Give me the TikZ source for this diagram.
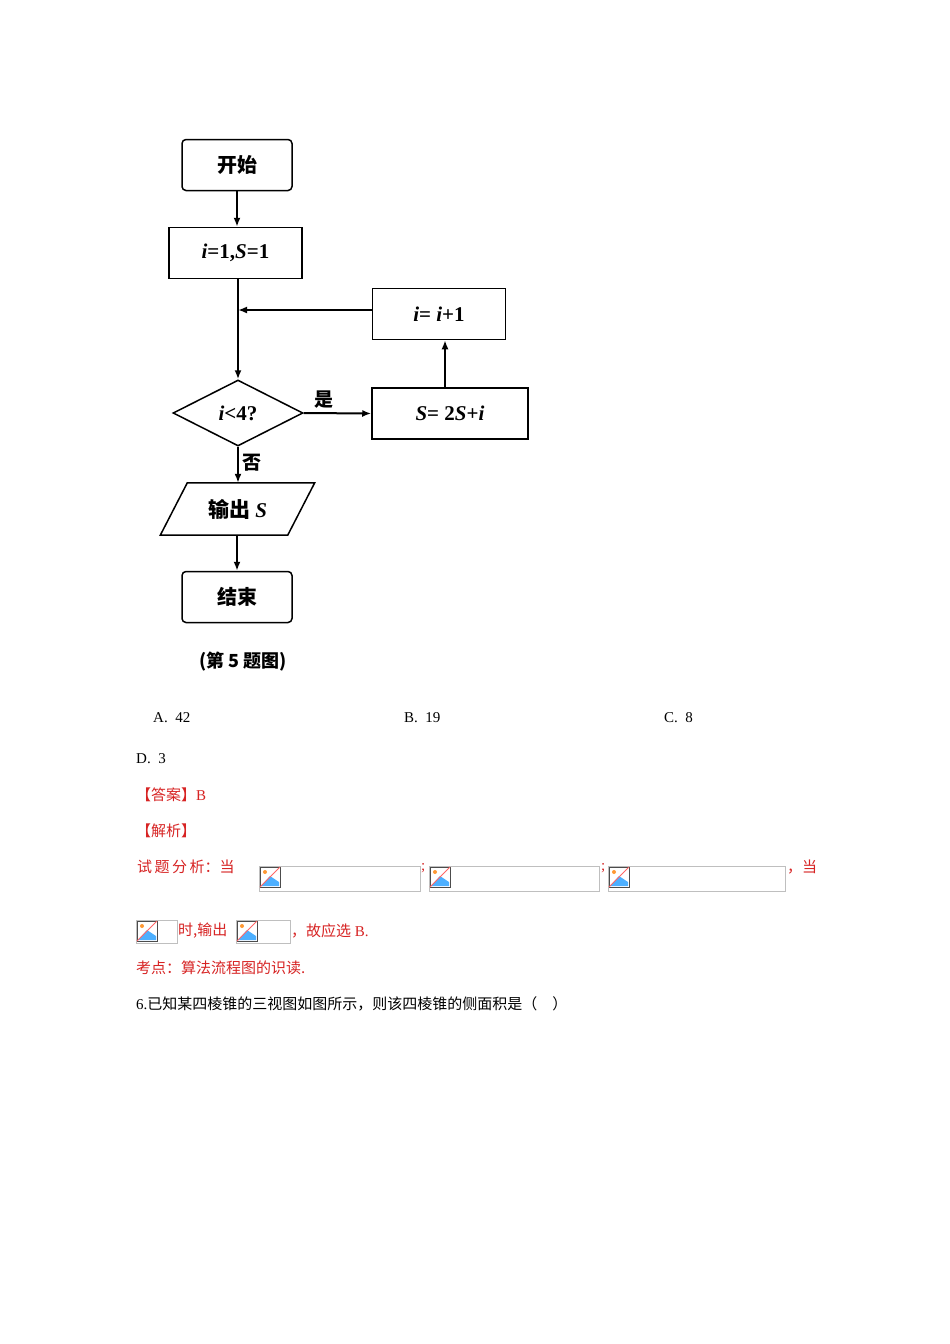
\documentclass[tikz,border=0pt]{standalone}
\usepackage{fontspec}
\setmainfont{Liberation Serif}
\newfontfamily\cjk{Noto Sans CJK SC}
\usetikzlibrary{shapes.geometric,arrows.meta,calc}
\definecolor{ansred}{RGB}{215,35,35}
\tikzset{
 box/.style={draw,line width=1.5pt,minimum width=133pt,minimum height=51pt,inner sep=0pt,font=\bfseries\fontsize{21}{21}\selectfont},
 rbox/.style={box,rounded corners=4pt,minimum width=110pt,font=\cjk\bfseries\fontsize{20}{20}\selectfont},
 arr/.style={line width=2pt,-{Latex[length=9pt,width=7pt]}},
 txt/.style={anchor=west,inner sep=0pt,font=\fontsize{15}{15}\selectfont},
 red/.style={txt,text=ansred},
 img/.style={draw=black!25,line width=0.6pt,minimum height=25pt,inner sep=0pt},
}
\newcommand{\imgicon}[1]{%
 \fill[white] (#1) rectangle ++(20,20);
 \fill[blue!45!cyan!70] ($(#1)+(1,19)$) -- ($(#1)+(10,9)$) -- ($(#1)+(19,15)$) -- ($(#1)+(19,19)$) -- cycle;
 \draw[black!70,line width=0.8pt] (#1) rectangle ++(20,20);
 \fill[orange!80] ($(#1)+(5,5)$) circle (2);
 \draw[red!60,line width=1pt] ($(#1)+(0,20)$) -- ($(#1)+(20,0)$);
}
\newcommand{\iv}[1]{\textit{#1}}
\begin{document}
\begin{tikzpicture}[x=1pt,y=-1pt]
\useasboundingbox (0,0) rectangle (950,1344);
\fill[white] (0,0) rectangle (950,1344);
\node[rbox] (start) at (237,165) {开始};
\node[box] (init) at (235.5,253) {\iv{i}=1,\iv{S}=1};
\node[box] (inc) at (439,314) {\iv{i}= \iv{i}+1};
\node[draw,diamond,line width=1.5pt,aspect=2,minimum width=130pt,minimum height=66pt,inner sep=0pt,font=\bfseries\fontsize{21}{21}\selectfont] (cond) at (238,413) {\iv{i}<4?};
\node[box,minimum width=156pt] (upd) at (450,413.5) {\iv{S}= 2\iv{S}+\iv{i}};
\node[inner sep=0pt,minimum width=120pt,minimum height=52pt,font=\fontsize{21}{21}\selectfont] (out) at (237.5,509) {{\cjk\bfseries 输出} \textbf{\iv{S}}};
\draw[line width=1.5pt] ($(out.south west)+(-17,0)$) -- ($(out.north west)+(10,0)$) -- ($(out.north east)+(17,0)$) -- ($(out.south east)+(-10,0)$) -- cycle;
\node[rbox] (end) at (237,597) {结束};
\node[font=\cjk\bfseries\fontsize{18}{18}\selectfont] (cap) at (243,662) {(第 5 题图)};
\coordinate (j) at (238,310);
\draw[arr] (start) -- (init.north -| start);
\draw[line width=2pt] (init.south -| j) -- (j);
\draw[arr] (j) -- (cond.north);
\draw[arr] (j -| inc.west) -- (j);
\draw[arr] (cond.east) -- (upd.west) node[pos=0.3,above,font=\cjk\bfseries\fontsize{19}{19}\selectfont] (yes) {是};
\draw[arr] (upd.north -| 445,0) -- (inc.south -| 445,0);
\draw[arr] (cond.south) -- (out.north -| cond.south) node[pos=0.45,right,font=\cjk\bfseries\fontsize{19}{19}\selectfont] (no) {否};
\draw[arr] (out.south -| end.north) -- (end.north);
% answers
\node[txt] (a) at (153,718) {A.\ \ 42};
\node[txt] (b) at (404,718) {B.\ \ 19};
\node[txt] (c) at (664,718) {C.\ \ 8};
\node[txt] (d) at (136,759) {D.\ \ 3};
\node[red] (ans) at (136,795) {\cjk 【答案】\normalfont B};
\node[red] (jx) at (136,831) {\cjk 【解析】};
\node[red] (t1) at (137,867) {\cjk 试\,题\,分\,析：当};
\node[img,minimum width=161pt] (i1) at (339.5,879) {};
\node[img,minimum width=170pt] (i2) at (514,879) {};
\node[img,minimum width=177pt] (i3) at (696.5,879) {};
\imgicon{260,867}
\imgicon{430,867}
\imgicon{609,867}
\node[red] at (421,868) {;};
\node[red] at (601,868) {;};
\node[red] (t2) at (787,867) {\cjk ，当};
\node[img,minimum width=41pt,minimum height=23pt] (i4) at (156.5,932) {};
\imgicon{137,921}
\node[red] (t3) at (178,931) {\cjk 时,输出};
\node[img,minimum width=54pt,minimum height=23pt] (i5) at (263,932) {};
\imgicon{237,921}
\node[red] (t4) at (291,931) {\cjk ，故应选\normalfont\ B.};
\node[red] (kd) at (136,968) {\cjk 考点：算法流程图的识读.};
\node[txt] (q6) at (136,1004) {6.{\cjk 已知某四棱锥的三视图如图所示，则该四棱锥的侧面积是（\quad ）}};
\end{tikzpicture}
\end{document}
